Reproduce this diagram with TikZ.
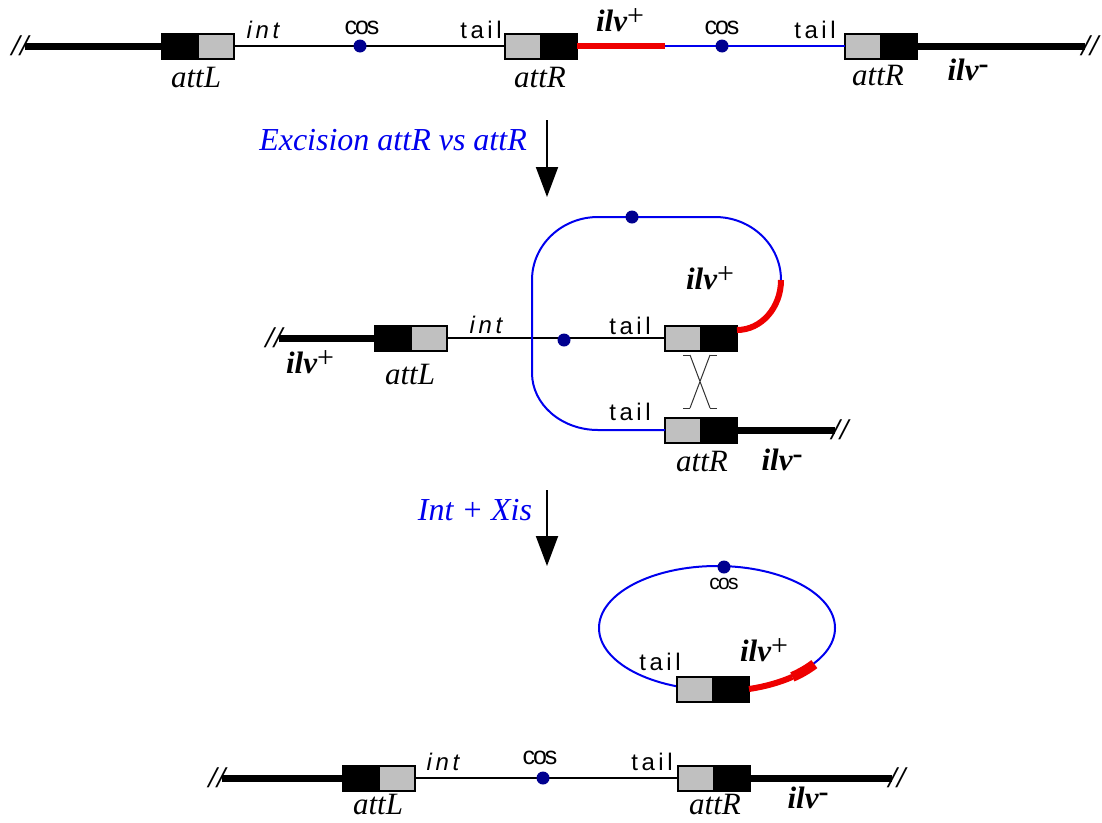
\documentclass[tikz,border=0pt]{standalone}
\usepackage{fontspec}
\setmainfont{Liberation Serif}
\setsansfont{Liberation Sans}
\newfontfamily\seqfont{Liberation Sans}[LetterSpace=15]
\newfontfamily\cosfont{Liberation Sans}[LetterSpace=-8]
\usetikzlibrary{arrows.meta, shapes.geometric, positioning}
\definecolor{attgray}{HTML}{C0C0C0}
\definecolor{phageblue}{HTML}{0000EE}
\definecolor{cosblue}{HTML}{00008F}
\definecolor{ilvred}{HTML}{EE0000}
\tikzset{
  attk/.style={
    rectangle, draw=black, fill=black, line width=2pt, outer sep=0pt,
    minimum width=36pt, minimum height=25pt, inner sep=0pt
  },
  attg/.style={attk, fill=attgray},
  dna/.style={line width=7pt},
  strand/.style={line width=2pt},
  phage/.style={line width=2pt, phageblue},
  ilvseg/.style={line width=6pt, ilvred},
  cosdot/.style={circle, fill=cosblue, minimum size=13pt, inner sep=0pt},
  cutmark/.style={font=\fontsize{30}{32}\selectfont\bfseries\itshape, inner sep=0pt},
  attlbl/.style={font=\fontsize{31}{33}\selectfont\itshape},
  ilvlbl/.style={font=\fontsize{31}{33}\selectfont\bfseries\itshape},
  seqlbl/.style={font=\fontsize{24}{26}\seqfont},
  intlbl/.style={font=\fontsize{24}{26}\seqfont\itshape},
  coslbl/.style={font=\fontsize{25}{27}\cosfont},
  steplbl/.style={font=\fontsize{32}{34}\selectfont\itshape, text=phageblue},
  flowarrow/.style={line width=2pt, -{Triangle[width=22pt,length=30pt]}},
  xover/.style={line width=1pt, black!80}
}
\newcommand{\ilvplus}{ilv\raisebox{0.45ex}{\fontsize{30}{30}\selectfont\mdseries\upshape +}}
\newcommand{\ilvminus}{ilv\raisebox{0.5ex}{\fontsize{30}{30}\selectfont\upshape -}}

\begin{document}
\begin{tikzpicture}[x=1pt, y=-1pt]
  \useasboundingbox (0,0) rectangle (1102,822);

  % Chromosome with tandem prophage
  \node[cutmark] (cut1) at (20,46) {//};
  \node[attk] (L1k) at (180,46) {};
  \node[attg, right=0pt of L1k] (L1g) {};
  \node[attg] (R1g) at (523,46) {};
  \node[attk, right=0pt of R1g] (R1k) {};
  \node[attg] (R2g) at (863,46) {};
  \node[attk, right=0pt of R2g] (R2k) {};
  \node[cutmark] (cut2) at (1090,46) {//};
  \coordinate (ph1) at (665,46);
  \draw[dna] ([xshift=-4pt]cut1.east) -- (L1k.west);
  \draw[strand] (L1g.east) -- (R1g.west);
  \draw[ilvseg] (R1k.east) -- (ph1);
  \draw[phage] (ph1) -- (R2g.west);
  \draw[dna] (R2k.east) -- ([xshift=4pt]cut2.west);
  \node[cosdot] (cos1) at (360,46) {};
  \node[cosdot] (cos2) at (722,46) {};
  \node[intlbl] at (263,30) {int};
  \node[coslbl] at (362,28) {cos};
  \node[seqlbl] at (481,30) {tail};
  \node[attlbl] at (196,78) {attL};
  \node[attlbl] at (540,78) {attR};
  \node[ilvlbl] at (620,20) {\ilvplus};
  \node[coslbl] at (722,28) {cos};
  \node[seqlbl] at (815,30) {tail};
  \node[attlbl] at (878,76) {attR};
  \node[ilvlbl] at (968,70) {\ilvminus};

  % Step 1
  \coordinate (a1s) at (547,120);
  \coordinate (a1e) at (547,197);
  \draw[flowarrow] (a1s) -- (a1e);
  \node[steplbl] at (393,140) {Excision attR vs attR};

  % Synapsis of the two attR sites
  \node[cutmark] (cut3) at (274,338) {//};
  \node[attk] (L2k) at (393,338) {};
  \node[attg, right=0pt of L2k] (L2g) {};
  \node[attg] (T2g) at (683,338) {};
  \node[attk, right=0pt of T2g] (T2k) {};
  \node[attg] (B2g) at (683,430) {};
  \node[attk, right=0pt of B2g] (B2k) {};
  \node[cutmark] (cut4) at (840,430) {//};
  \draw[dna] ([xshift=-4pt]cut3.east) -- (L2k.west);
  \draw[strand] (L2g.east) -- (T2g.west);
  \draw[ilvseg] ([yshift=8pt]T2k.east)
    arc[start angle=90, end angle=0, x radius=44, y radius=50]
    coordinate (loop0);
  \draw[phage] (loop0)
    arc[start angle=0, end angle=-90, x radius=66, y radius=63]
    -- (598,217)
    arc[start angle=-90, end angle=-180, x radius=66, y radius=63]
    -- (532,373)
    arc[start angle=180, end angle=90, x radius=66, y radius=57]
    -- (B2g.west);
  \draw[dna] (B2k.east) -- ([xshift=4pt]cut4.west);
  \node[cosdot] (cos3) at (632,217) {};
  \node[cosdot] (cos4) at (564,340) {};
  % crossover
  \coordinate (x1) at (690,355);
  \coordinate (x2) at (710,355);
  \coordinate (x3) at (690,408);
  \coordinate (x4) at (710,408);
  \draw[xover] (x1) -- (x4) (x2) -- (x3);
  \draw[xover] (x1) -- ++(-7,0) (x2) -- ++(7,0)
               (x3) -- ++(-7,0) (x4) -- ++(7,0);
  \node[intlbl] at (486,325) {int};
  \node[seqlbl] at (630,326) {tail};
  \node[seqlbl] at (630,412) {tail};
  \node[ilvlbl] at (710,278) {\ilvplus};
  \node[ilvlbl] at (310,362) {\ilvplus};
  \node[attlbl] at (410,375) {attL};
  \node[attlbl] at (702,462) {attR};
  \node[ilvlbl] at (782,460) {\ilvminus};

  % Step 2
  \coordinate (a2s) at (547,490);
  \coordinate (a2e) at (547,566);
  \draw[flowarrow] (a2s) -- (a2e);
  \node[steplbl] at (475,510) {Int + Xis};

  % Excised circle
  \node[ellipse, draw=phageblue, line width=2pt, minimum width=236pt,
        minimum height=124pt] (circ) at (717,628) {};
  \node[attg] (C1g) at (695,689) {};
  \node[attk, right=0pt of C1g] (C1k) {};
  \draw[ilvseg] (C1k.east)
    arc[start angle=74, end angle=50, x radius=118, y radius=62]
    coordinate (tip0);
  \draw[ilvseg, line width=10pt] (tip0)
    arc[start angle=50, end angle=34, x radius=118, y radius=62];
  \node[cosdot] (cos5) at (724,567) {};
  \node[coslbl, font=\fontsize{21}{23}\cosfont] at (724,584) {cos};
  \node[seqlbl] at (660,662) {tail};
  \node[ilvlbl] at (764,650) {\ilvplus};

  % Chromosome after excision
  \node[cutmark] (cut5) at (217,778) {//};
  \node[attk] (L3k) at (361,778) {};
  \node[attg, right=0pt of L3k] (L3g) {};
  \node[attg] (R3g) at (696,778) {};
  \node[attk, right=0pt of R3g] (R3k) {};
  \node[cutmark] (cut6) at (897,778) {//};
  \draw[dna] ([xshift=-4pt]cut5.east) -- (L3k.west);
  \draw[strand] (L3g.east) -- (R3g.west);
  \draw[dna] (R3k.east) -- ([xshift=4pt]cut6.west);
  \node[cosdot] (cos6) at (543,778) {};
  \node[intlbl] at (443,762) {int};
  \node[coslbl] at (540,758) {cos};
  \node[seqlbl] at (652,762) {tail};
  \node[attlbl] at (378,804) {attL};
  \node[attlbl] at (715,804) {attR};
  \node[ilvlbl] at (808,798) {\ilvminus};
\end{tikzpicture}
\end{document}
